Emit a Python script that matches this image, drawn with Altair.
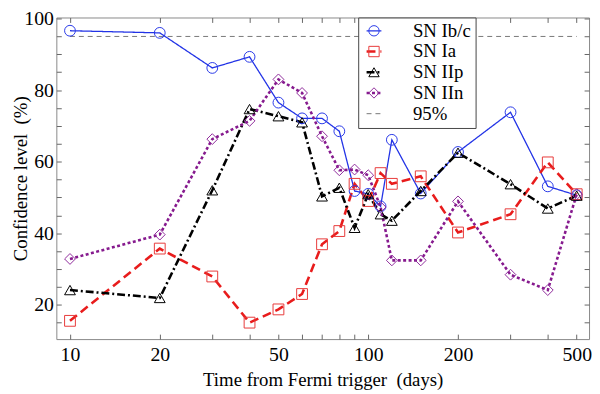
import altair as alt
import pandas as pd

# ---- data ----
times = [10, 20, 30, 40, 50, 60, 70, 80, 90, 100, 110, 120, 150, 200, 300, 400, 500]
sn_ibc = [96.6, 96.0, 86.2, 89.3, 76.5, 72.1, 72.1, 68.5, 51.8, 51.0, 47.5, 66.1, 51.1, 62.7, 73.8, 53.1, 50.6]
sn_ia = [15.5, 35.7, 27.9, 15.0, 18.7, 23.0, 36.9, 40.6, 53.8, 49.0, 56.8, 53.8, 55.9, 40.2, 45.3, 59.8, 50.9]
sn_iip = [24.1, 21.9, 52.0, 74.7, 72.7, 71.0, 50.3, 52.7, 41.5, 50.9, 45.3, 43.5, 51.8, 62.5, 53.7, 46.9, 50.5]
sn_iin = [32.8, 39.6, 66.3, 71.4, 83.0, 79.2, 67.1, 57.6, 57.8, 56.2, 47.3, 32.4, 32.4, 48.9, 28.4, 24.1, 50.9]
ref_times = [10, 500]
ref_level = [95, 95]

series_sn = ["SN Ib/c", "SN Ia", "SN IIp", "SN IIn"]
series_all = series_sn + ["95%"]
x_ticks = [10, 20, 30, 40, 50, 60, 70, 80, 90, 100, 200, 300, 400, 500]
x_labeled = [10, 20, 50, 100, 200, 500]
y_ticks = list(range(15, 101, 5))

rows = []
for name, vals in zip(series_sn, [sn_ibc, sn_ia, sn_iip, sn_iin]):
    for t, v in zip(times, vals):
        rows.append({"series": name, "t": t, "v": v})
ref_rows = [{"series": "95%", "t": t, "v": v} for t, v in zip(ref_times, ref_level)]
df_lines = pd.DataFrame(rows + ref_rows)
df_pts = pd.DataFrame(rows)

# ---- styles ----
line_colors = ["#2233e6", "#e81c1c", "#000000", "#861a8e", "#777777"]
line_dashes = [[1, 0], [9, 5], [8, 3, 2, 3], [3, 2.5], [5, 4]]
line_widths = [1.3, 2.6, 2.6, 2.6, 1.0]
pt_colors = ["#2a3ae8", "#e83a3a", "#000000", "#8e2a9a"]
pt_shapes = ["circle", "square", "triangle-up", "diamond"]

FONT = "Liberation Serif"
FS = 20
TFS = 19
LFS = 19
TICK = 5
xscale = alt.Scale(type="log", domain=[9, 550], nice=False)
yscale = alt.Scale(domain=[10.4, 100.3], nice=False, zero=False)

lab_x = "[" + ",".join(str(v) for v in x_labeled) + "]"

# ticks point into the plot: each axis is moved inside by the tick length
common_axis = dict(
    labelFont=FONT, labelFontSize=FS, labelColor="black",
    titleFont=FONT, titleFontSize=TFS, titleFontWeight="normal", titleColor="black",
    domain=False, grid=False, tickColor="#666", tickSize=TICK, tickWidth=1,
    offset=-TICK,
)

x_bottom = alt.Axis(
    values=x_ticks, format="d", labelPadding=6,
    labelExpr=f"indexof({lab_x}, datum.value) >= 0 ? datum.label : ''",
    title="Time from Fermi trigger\u00a0 (days)", titlePadding=6,
    **common_axis,
)
x_top = alt.Axis(orient="top", values=x_ticks, labels=False, title=None, **common_axis)
y_left = alt.Axis(
    values=y_ticks, labelPadding=3,
    labelExpr="datum.value % 20 == 0 ? datum.label : ''",
    title="Confidence level\u00a0 (%)", titleX=-41, titleBaseline="middle", titleAngle=-90,
    **common_axis,
)
y_right = alt.Axis(orient="right", values=y_ticks, labels=False, title=None, **common_axis)

leg_common = dict(
    title=None, orient="none", legendX=306, legendY=0, padding=4,
    labelFont=FONT, labelFontSize=LFS, labelColor="black",
    rowPadding=1, symbolOffset=2.5,
)
leg_lines = alt.Legend(
    strokeColor="#444", fillColor="white", symbolType="stroke", symbolSize=225,
    labelOffset=30, labelExpr="datum.label + '\u00a0\u00a0\u00a0'",
    **leg_common,
)
# marker overlay for the legend: same row layout, blank labels kept out of the way
leg_pts = alt.Legend(
    labelExpr="'\u00a0'", labelOffset=118,
    symbolSize=110, symbolStrokeWidth=1, symbolFillColor="transparent",
    **leg_common,
)

lines = alt.Chart(df_lines).mark_line().encode(
    x=alt.X("t:Q", scale=xscale, axis=x_bottom),
    y=alt.Y("v:Q", scale=yscale, axis=y_left),
    color=alt.Color("series:N", scale=alt.Scale(domain=series_all, range=line_colors), legend=leg_lines),
    strokeDash=alt.StrokeDash("series:N", scale=alt.Scale(domain=series_all, range=line_dashes), legend=leg_lines),
    strokeWidth=alt.StrokeWidth("series:N", scale=alt.Scale(type="ordinal", domain=series_all, range=line_widths), legend=leg_lines),
)

pts = alt.Chart(df_pts).mark_point(filled=False, size=120, strokeWidth=1, opacity=1).encode(
    x=alt.X("t:Q", scale=xscale, axis=x_top),
    y=alt.Y("v:Q", scale=yscale, axis=y_right),
    shape=alt.Shape("series:N", scale=alt.Scale(domain=series_sn, range=pt_shapes), legend=leg_pts),
    stroke=alt.Stroke("series:N", scale=alt.Scale(domain=series_sn, range=pt_colors), legend=leg_pts),
)

chart = (
    alt.layer(lines, pts)
    .resolve_axis(x="independent", y="independent")
    .properties(
        width=540, height=326,
        padding={"left": 49, "top": 7, "right": 3, "bottom": 50},
        autosize=alt.AutoSizeParams(type="none"),
        background="white",
    )
    .configure_view(stroke="#888", strokeWidth=1)
)

chart.save("out.html", embed_options={"renderer": "svg", "actions": False})
